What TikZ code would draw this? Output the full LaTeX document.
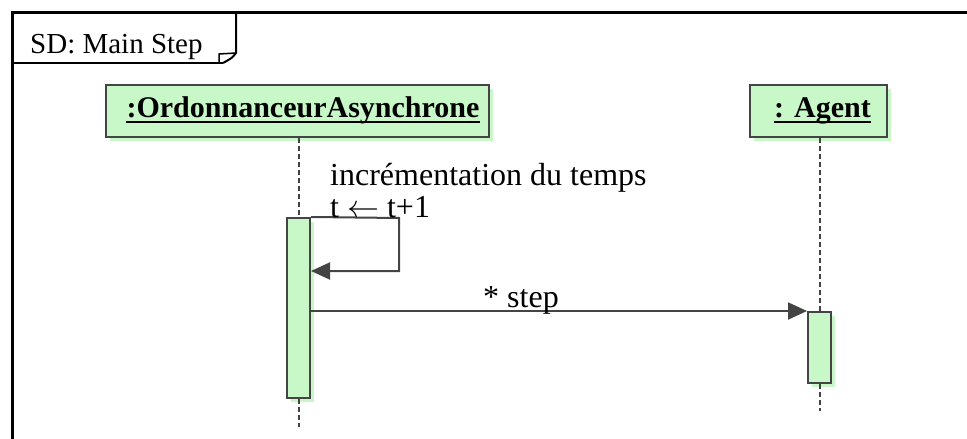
\RequirePackage{fix-cm}
\documentclass[tikz,border=0pt]{standalone}
\usepackage{fontspec}
\setmainfont{Liberation Serif}
\usetikzlibrary{arrows.meta,shadows}
\definecolor{umlgreen}{RGB}{200,248,200}
\definecolor{umlgray}{RGB}{68,68,68}
\begin{document}
\begin{tikzpicture}[x=1pt,y=-1pt,
  objbox/.style={draw=umlgray, line width=2pt, fill=umlgreen, inner sep=0pt,
    drop shadow={shadow xshift=3.5pt,shadow yshift=-3.5pt,fill=umlgreen,opacity=1}},
  lifeline/.style={draw=umlgray, line width=2pt, dash pattern=on 5pt off 3pt},
  msg/.style={draw=umlgray, line width=2pt, -{Triangle[length=19pt,width=17pt]}},
  objtext/.style={inner sep=0pt, font=\fontsize{30}{30}\selectfont\bfseries},
  msgtext/.style={inner sep=0pt, font=\fontsize{32}{32}\selectfont},
  frameline/.style={draw=black, line width=3pt},
  tabline/.style={draw=black, line width=2pt},
]
\useasboundingbox (0,0) rectangle (967,439);

% frame
\draw[frameline] (12,439) -- (12,12) -- (967,12);
\draw[tabline] (12,63) -- (223,63);
\draw[tabline] (236,12) -- (236,53) .. controls (232,58) .. (223,63);
\draw[tabline, line width=1.5pt] (219,63) -- (219,54) -- (236,53);
\node[anchor=base west, inner sep=0pt, font=\fontsize{29}{29}\selectfont] (sd) at (30,53) {SD: Main Step};

% objects
\node[objbox, minimum width=383pt, minimum height=52pt] (ord) at (297.5,111) {};
\node[objtext, anchor=base] (ordt) at (303,117) {:OrdonnanceurAsynchrone};
\draw[line width=2.5pt] ([yshift=-5pt]ordt.base west) -- ([yshift=-5pt]ordt.base east);

\node[objbox, minimum width=137pt, minimum height=52pt] (agt) at (818.5,111) {};
\node[objtext, anchor=base] (agtt) at (822.5,117) {: Agent};
\draw[line width=2.5pt] ([yshift=-5pt]agtt.base west) -- ([yshift=-5pt]agtt.base east);

% activations
\node[objbox, minimum width=23pt, minimum height=180pt] (act1) at (298.5,308) {};
\node[objbox, minimum width=23pt, minimum height=71pt] (act2) at (819.5,347.5) {};

% lifelines
\coordinate (ordend) at (298,427);
\coordinate (agtend) at (819.5,411);
\draw[lifeline] (act1.north |- ord.south) -- (act1.north);
\draw[lifeline] (act1.south) -- (act1.south |- ordend);
\draw[lifeline] (act2.north |- agt.south) -- (act2.north);
\draw[lifeline] (act2.south) -- (agtend);

% self message
\coordinate (s1) at (399,218);
\coordinate (s2) at (399,271);
\draw[msg] (act1.north east) -- (s1) -- (s2) -- (s2 -| act1.east);
\node[msgtext, anchor=base west] (inc) at (330,185) {incrémentation du temps};
\node[msgtext, anchor=base west] (tt) at (330,217) {t $\leftarrow$ t+1};

% step message
\draw[msg] (act1.east |- act2.north) -- (act2.north west);
\node[msgtext, anchor=base] (step) at (521,307) {* step};
\end{tikzpicture}
\end{document}
